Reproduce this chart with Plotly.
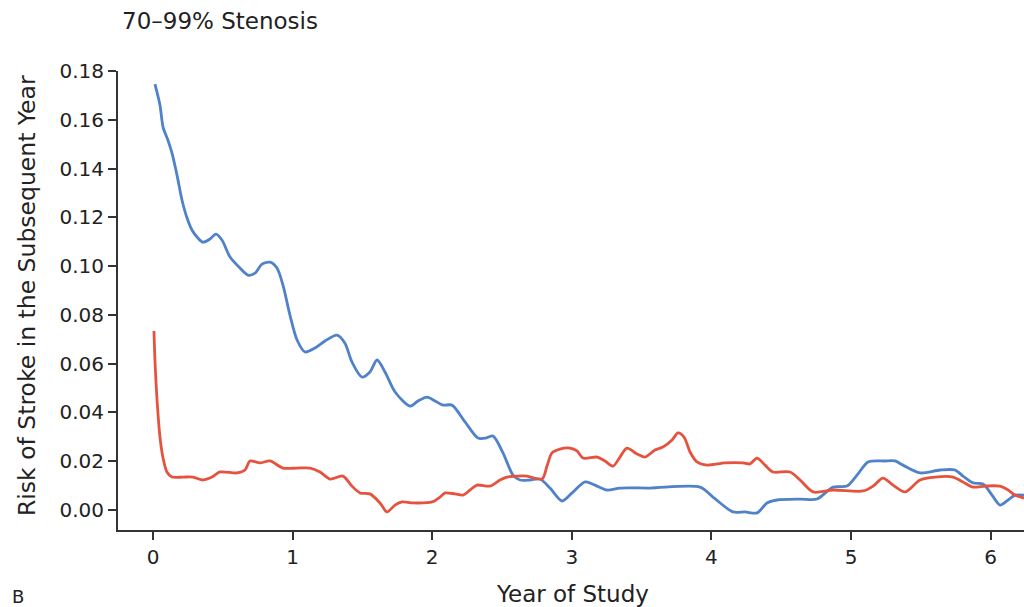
import plotly.graph_objects as go

# ---- data ----
blue_years = [0.014, 0.05, 0.072, 0.107, 0.136, 0.172, 0.208, 0.244, 0.279, 0.322, 0.358, 0.408, 0.451, 0.494,
              0.552, 0.623, 0.681, 0.731, 0.781, 0.838, 0.888, 0.931, 0.981, 1.032, 1.089, 1.16, 1.232, 1.318,
              1.375, 1.425, 1.497, 1.554, 1.605, 1.662, 1.734, 1.841, 1.898, 1.963, 2.02, 2.077, 2.142, 2.235,
              2.328, 2.385, 2.436, 2.507, 2.579, 2.629, 2.701, 2.772, 2.844, 2.93, 3.002, 3.095, 3.166, 3.252,
              3.345, 3.56, 3.918, 4.011, 4.155, 4.241, 4.327, 4.398, 4.47, 4.635, 4.756, 4.871, 4.971, 5.043,
              5.122, 5.244, 5.315, 5.372, 5.494, 5.638, 5.745, 5.802, 5.874, 5.946, 6.01, 6.067, 6.125, 6.175, 6.239]
blue_risk = [0.1746, 0.166, 0.157, 0.1516, 0.1463, 0.1373, 0.127, 0.1197, 0.1148, 0.1115, 0.1098, 0.1111, 0.1131,
             0.1107, 0.1037, 0.0992, 0.0963, 0.0971, 0.1008, 0.1016, 0.0992, 0.0922, 0.0799, 0.0697, 0.0648,
             0.0664, 0.0693, 0.0717, 0.0684, 0.0607, 0.0545, 0.0566, 0.0615, 0.0566, 0.0484, 0.0426, 0.0447,
             0.0463, 0.0447, 0.043, 0.043, 0.0361, 0.0295, 0.0295, 0.0303, 0.0234, 0.0143, 0.0123, 0.0123,
             0.0127, 0.009, 0.0037, 0.007, 0.0115, 0.0102, 0.0082, 0.009, 0.009, 0.0094, 0.0053, -0.0008,
             -0.0008, -0.0012, 0.0029, 0.0041, 0.0045, 0.0045, 0.0094, 0.0098, 0.0143, 0.0197, 0.0201, 0.0201,
             0.0184, 0.0152, 0.0164, 0.0164, 0.0139, 0.0111, 0.0107, 0.0061, 0.002, 0.0041, 0.0061, 0.0061]

red_years = [0.007, 0.014, 0.029, 0.05, 0.072, 0.1, 0.136, 0.215, 0.287, 0.358, 0.423, 0.48, 0.602, 0.659,
             0.695, 0.766, 0.838, 0.931, 1.032, 1.125, 1.196, 1.268, 1.361, 1.425, 1.483, 1.554, 1.626, 1.676,
             1.733, 1.784, 1.862, 1.999, 2.056, 2.092, 2.163, 2.221, 2.271, 2.321, 2.414, 2.486, 2.536, 2.607,
             2.679, 2.787, 2.822, 2.858, 2.915, 2.987, 3.037, 3.08, 3.181, 3.238, 3.295, 3.345, 3.395, 3.467,
             3.524, 3.596, 3.653, 3.718, 3.761, 3.804, 3.847, 3.897, 3.968, 4.097, 4.226, 4.276, 4.327, 4.384,
             4.441, 4.563, 4.635, 4.728, 4.871, 5.086, 5.158, 5.229, 5.301, 5.387, 5.494, 5.602, 5.731, 5.802,
             5.874, 5.96, 6.067, 6.125, 6.175, 6.239]
red_risk = [0.0734, 0.0615, 0.0451, 0.0299, 0.0213, 0.0156, 0.0135, 0.0135, 0.0135, 0.0123, 0.0135, 0.0156,
            0.0152, 0.0164, 0.0201, 0.0193, 0.0201, 0.0172, 0.0172, 0.0172, 0.0156, 0.0127, 0.0139, 0.0098,
            0.007, 0.0066, 0.0029, -0.0008, 0.002, 0.0033, 0.0029, 0.0033, 0.0053, 0.007, 0.0066, 0.0061,
            0.0082, 0.0102, 0.0098, 0.0123, 0.0135, 0.0139, 0.0139, 0.0127, 0.018, 0.0234, 0.025, 0.0254,
            0.0242, 0.0213, 0.0217, 0.0201, 0.018, 0.0217, 0.0254, 0.023, 0.0217, 0.0246, 0.0258, 0.0287,
            0.0316, 0.0299, 0.0238, 0.0197, 0.0184, 0.0193, 0.0193, 0.0189, 0.0213, 0.0184, 0.0156, 0.0156,
            0.0123, 0.0074, 0.0082, 0.0078, 0.0098, 0.0131, 0.0102, 0.0074, 0.0123, 0.0135, 0.0135, 0.0115,
            0.0094, 0.0098, 0.0098, 0.0082, 0.0061, 0.0049]

x_ticks = [0, 1, 2, 3, 4, 5, 6]
y_ticks = [0.00, 0.02, 0.04, 0.06, 0.08, 0.10, 0.12, 0.14, 0.16, 0.18]
y_tick_labels = ["0.00", "0.02", "0.04", "0.06", "0.08", "0.10", "0.12", "0.14", "0.16", "0.18"]

title_text = "70\u201399% Stenosis"
x_title = "Year of Study"
y_title = "Risk of Stroke in the Subsequent Year"
panel_label = "B"

FONT = "DejaVu Sans"
TXT = "#222222"

fig = go.Figure()
fig.add_trace(go.Scatter(x=blue_years, y=blue_risk, mode="lines",
                         line=dict(color="#4f82c8", width=2.8, shape="spline", smoothing=0.8),
                         showlegend=False, hoverinfo="skip"))
fig.add_trace(go.Scatter(x=red_years, y=red_risk, mode="lines",
                         line=dict(color="#e5533f", width=2.8, shape="spline", smoothing=0.8),
                         showlegend=False, hoverinfo="skip"))

fig.update_layout(
    width=1024, height=607,
    margin=dict(l=118, r=0, t=71, b=77),
    paper_bgcolor="white", plot_bgcolor="white",
    font=dict(family=FONT, color=TXT),
    xaxis=dict(range=[-0.2507, 6.239], tickvals=x_ticks, ticks="outside", ticklen=8, tickwidth=2,
               tickcolor="#333333", showline=True, linecolor="#333333", linewidth=2,
               showgrid=False, zeroline=False, tickfont=dict(family=FONT, size=20, color=TXT)),
    yaxis=dict(range=[-0.0082, 0.18], tickvals=y_ticks, ticktext=y_tick_labels, ticks="outside",
               ticklen=8, tickwidth=2, tickcolor="#333333", showline=True, linecolor="#333333",
               linewidth=2, showgrid=False, zeroline=False,
               tickfont=dict(family=FONT, size=20, color=TXT)),
    annotations=[
        dict(text=title_text, xref="paper", yref="paper", x=(120 - 118) / 906, y=1 + (71 - 21) / 459,
             xanchor="left", yanchor="middle", showarrow=False, font=dict(family=FONT, size=23, color=TXT)),
        dict(text=y_title, xref="paper", yref="paper", x=(27 - 118) / 906, y=(530 - 296) / 459,
             xanchor="center", yanchor="middle", textangle=-90, showarrow=False,
             font=dict(family=FONT, size=23.5, color=TXT)),
        dict(text=x_title, xref="paper", yref="paper", x=(572 - 118) / 906, y=(530 - 594) / 459,
             xanchor="center", yanchor="middle", showarrow=False, font=dict(family=FONT, size=23, color=TXT)),
        dict(text=panel_label, xref="paper", yref="paper", x=(18 - 118) / 906, y=(530 - 596) / 459,
             xanchor="center", yanchor="middle", showarrow=False, font=dict(family=FONT, size=18, color=TXT)),
    ],
)

fig.write_html("out.html", config={"displayModeBar": False},
               post_script="document.body.style.margin='0';document.body.style.overflow='hidden';")
